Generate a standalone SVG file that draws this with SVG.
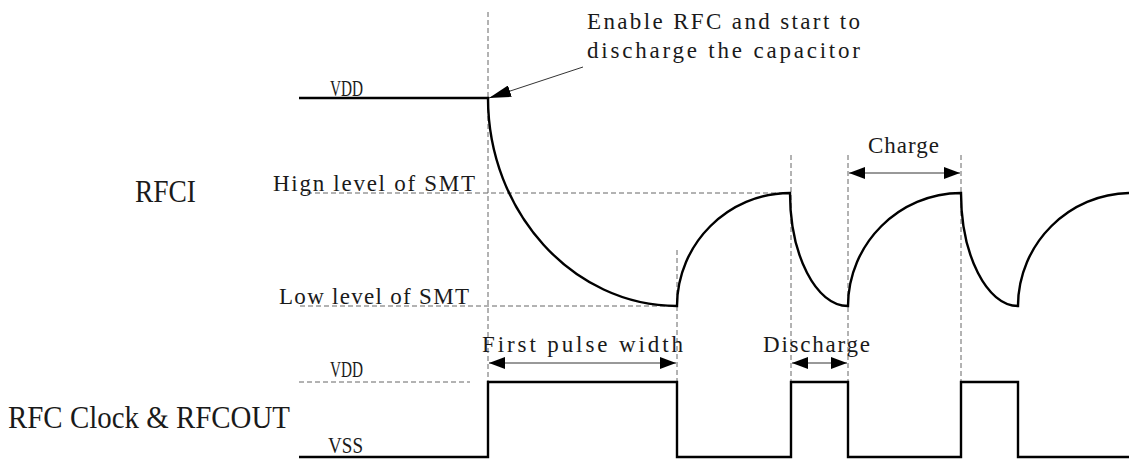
<svg xmlns="http://www.w3.org/2000/svg" width="1129" height="459" viewBox="0 0 1129 459">
  <style>
    .bg { fill: #ffffff; }
    .wave { fill: none; stroke: #000000; stroke-width: 2.4; stroke-linejoin: miter; }
    .guide { fill: none; stroke: #666666; stroke-width: 1; stroke-dasharray: 5 3; }
    .dim { fill: none; stroke: #333333; stroke-width: 1; }
    .lbl { font-family: "Liberation Serif", "Times New Roman", serif; font-size: 23px; fill: #1a1a1a; }
    .big { font-family: "Liberation Serif", "Times New Roman", serif; font-size: 31px; fill: #1a1a1a; }
  </style>
  <defs>
    <marker id="dimHead" viewBox="0 0 16 12" refX="16" refY="6" markerWidth="16" markerHeight="12" markerUnits="userSpaceOnUse" orient="auto-start-reverse">
      <path d="M0,0 L16,6 L0,12 Z" fill="#000000"/>
    </marker>
    <marker id="noteHead" viewBox="0 0 22 12" refX="22" refY="6" markerWidth="22" markerHeight="12" markerUnits="userSpaceOnUse" orient="auto">
      <path d="M0,0 L22,6 L0,12 Z" fill="#000000"/>
    </marker>
  </defs>

  <rect class="bg" x="0" y="0" width="1129" height="459"/>

  <!-- dashed reference lines -->
  <g id="guides">
    <line class="guide" x1="488" y1="12" x2="488" y2="382"/>
    <line class="guide" x1="677" y1="250" x2="677" y2="382"/>
    <line class="guide" x1="791" y1="155" x2="791" y2="382"/>
    <line class="guide" x1="848" y1="155" x2="848" y2="382"/>
    <line class="guide" x1="961" y1="155" x2="961" y2="382"/>
    <line class="guide" x1="307" y1="193" x2="790" y2="193"/>
    <line class="guide" x1="300" y1="306" x2="677" y2="306"/>
    <line class="guide" x1="299" y1="382" x2="470" y2="382" stroke-dasharray="3 2"/>
  </g>

  <!-- RFCI capacitor voltage -->
  <g id="rfci-wave">
    <path class="wave" d="M299,98 H488
      C488,212 573,306 677,306
      C677,244 728,193 790,193
      C790,255 816,306 848,306
      C848,244 899,193 961,193
      C961,255 987,306 1018,306
      C1018,244 1069,193 1131,193"/>
  </g>

  <!-- RFC clock / RFCOUT square wave -->
  <g id="rfcout-wave">
    <path class="wave" d="M299,457 H488 V382 H677 V457 H791 V382 H848 V457 H961 V382 H1018 V457 H1129"/>
  </g>

  <!-- dimension arrows and callout -->
  <g id="connectors">
    <line class="dim" x1="489" y1="363" x2="676" y2="363" marker-start="url(#dimHead)" marker-end="url(#dimHead)"/>
    <line class="dim" x1="792" y1="363" x2="847" y2="363" marker-start="url(#dimHead)" marker-end="url(#dimHead)"/>
    <line class="dim" x1="849" y1="173" x2="960" y2="173" marker-start="url(#dimHead)" marker-end="url(#dimHead)"/>
    <line class="dim" x1="583" y1="67" x2="489" y2="98" marker-end="url(#noteHead)"/>
  </g>

  <g id="note-enable">
    <text class="lbl" x="587" y="29" textLength="273">Enable RFC and start to</text>
    <text class="lbl" x="587" y="58" textLength="273">discharge the capacitor</text>
  </g>

  <g id="label-rfci">
    <text class="big" x="135" y="202" textLength="61" lengthAdjust="spacingAndGlyphs">RFCI</text>
  </g>
  <g id="label-rfci-vdd">
    <text class="lbl" x="330" y="96" textLength="33" lengthAdjust="spacingAndGlyphs">VDD</text>
  </g>
  <g id="label-high">
    <text class="lbl" x="273" y="191" textLength="202">Hign level of SMT</text>
  </g>
  <g id="label-low">
    <text class="lbl" x="279" y="304" textLength="190">Low level of SMT</text>
  </g>
  <g id="label-charge">
    <text class="lbl" x="868" y="153" textLength="71">Charge</text>
  </g>
  <g id="label-first-pulse">
    <text class="lbl" x="482" y="352" textLength="201">First pulse width</text>
  </g>
  <g id="label-discharge">
    <text class="lbl" x="763" y="352" textLength="107">Discharge</text>
  </g>
  <g id="label-rfcout">
    <text class="big" x="8" y="428" textLength="282" lengthAdjust="spacingAndGlyphs">RFC Clock &amp; RFCOUT</text>
  </g>
  <g id="label-out-vdd">
    <text class="lbl" x="330" y="377" textLength="33" lengthAdjust="spacingAndGlyphs">VDD</text>
  </g>
  <g id="label-out-vss">
    <text class="lbl" x="328" y="453" textLength="35" lengthAdjust="spacingAndGlyphs">VSS</text>
  </g>
</svg>
